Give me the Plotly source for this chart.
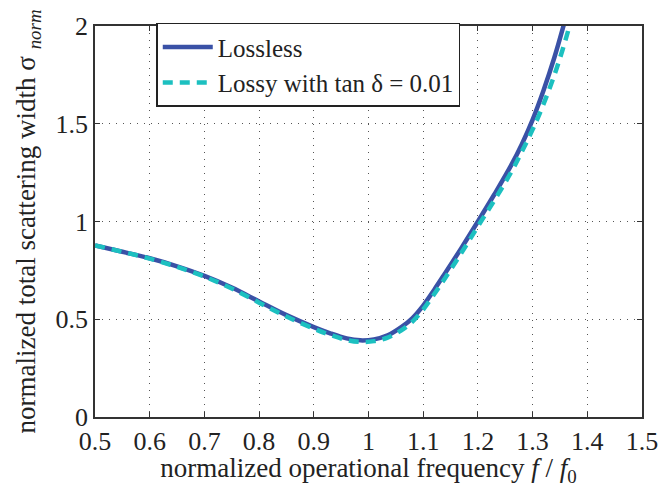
import plotly.graph_objects as go

freq_lossless = [0.5, 0.55, 0.6, 0.65, 0.7, 0.75, 0.8, 0.85, 0.9, 0.93, 0.96, 0.985, 1.01, 1.035, 1.06, 1.08, 1.1, 1.12, 1.14, 1.17, 1.2, 1.23, 1.26, 1.28, 1.3, 1.32, 1.34, 1.355, 1.365]
lossless = [0.878, 0.845, 0.812, 0.771, 0.722, 0.662, 0.591, 0.521, 0.46, 0.428, 0.402, 0.392, 0.397, 0.418, 0.46, 0.505, 0.57, 0.65, 0.735, 0.865, 1.0, 1.138, 1.283, 1.393, 1.52, 1.67, 1.84, 1.985, 2.09]

freq_lossy = [0.5, 0.55, 0.6, 0.65, 0.7, 0.75, 0.8, 0.85, 0.9, 0.93, 0.96, 0.985, 1.01, 1.035, 1.06, 1.08, 1.1, 1.12, 1.14, 1.17, 1.2, 1.23, 1.26, 1.28, 1.3, 1.32, 1.34, 1.355, 1.365, 1.375]
lossy = [0.878, 0.845, 0.81, 0.768, 0.718, 0.657, 0.585, 0.514, 0.452, 0.42, 0.394, 0.384, 0.388, 0.406, 0.443, 0.487, 0.55, 0.628, 0.71, 0.84, 0.975, 1.108, 1.248, 1.355, 1.47, 1.6, 1.75, 1.88, 1.975, 2.08]

xticks = [0.5, 0.6, 0.7, 0.8, 0.9, 1.0, 1.1, 1.2, 1.3, 1.4, 1.5]
xticklabels = ["0.5", "0.6", "0.7", "0.8", "0.9", "1", "1.1", "1.2", "1.3", "1.4", "1.5"]
yticks = [0, 0.5, 1, 1.5, 2]
yticklabels = ["0", "0.5", "1", "1.5", "2"]

font = "Liberation Serif"
txt = "#222222"

fig = go.Figure()
fig.add_trace(go.Scatter(x=freq_lossless, y=lossless, mode="lines", name="Lossless",
                         line=dict(color="#3A51A6", width=4.5, shape="spline", smoothing=1)))
fig.add_trace(go.Scatter(x=freq_lossy, y=lossy, mode="lines", name="Lossy with tan \u03b4 = 0.01",
                         line=dict(color="#1CC0C0", width=4.5, dash="10px,7px", shape="spline", smoothing=1)))

axis_common = dict(
    showline=True, linecolor="#333333", linewidth=1.5, mirror="ticks",
    ticks="inside", ticklen=5, tickcolor="#333333", tickwidth=1,
    showgrid=True, gridcolor="#555555", griddash="1px,6px", gridwidth=1,
    zeroline=False, tickfont=dict(family=font, size=26, color=txt),
)

fig.update_layout(
    width=672, height=487,
    margin=dict(l=95, r=30, t=15, b=65),
    paper_bgcolor="white", plot_bgcolor="white",
    font=dict(family=font, color=txt),
    xaxis=dict(range=[0.4999, 1.5001], tickvals=xticks, ticktext=xticklabels,
               title=dict(text="normalized operational frequency <i>f</i> / <i>f</i><sub>0</sub>",
                          font=dict(family=font, size=27, color=txt), standoff=0),
               **axis_common),
    yaxis=dict(range=[0, 2], tickvals=yticks, ticktext=yticklabels,
               title=dict(text="normalized total scattering width \u03c3 <sub><i>norm</i></sub>",
                          font=dict(family=font, size=27, color=txt), standoff=12),
               **axis_common),
    legend=dict(x=0.112, y=1.008, xanchor="left", yanchor="top",
                bgcolor="white", bordercolor="#222222", borderwidth=1.5,
                font=dict(family=font, size=25, color=txt),
                itemwidth=50, tracegroupgap=0),
    showlegend=True,
)

fig.write_html("out.html")
